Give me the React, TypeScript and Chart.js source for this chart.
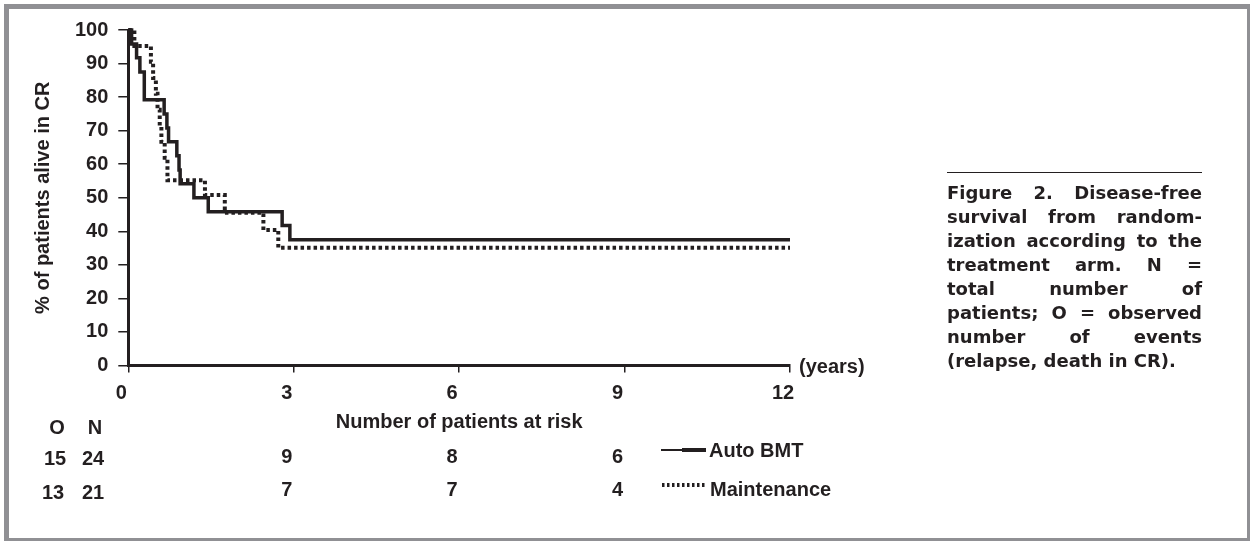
import React, { useEffect, useRef } from 'react';
import { Chart, registerables } from 'chart.js';

Chart.register(...registerables);

// ---- data ----
const autoYears = [0, 0.06, 0.15, 0.21, 0.29, 0.65, 0.70, 0.73, 0.88, 0.92, 0.94, 1.19, 1.45, 2.79, 2.93, 12.0];
const autoPct = [100, 95.8, 91.7, 87.5, 79.2, 75.0, 70.8, 66.7, 62.5, 58.3, 54.2, 50.0, 45.8, 41.7, 37.5, 37.5];

const maintYears = [0, 0.11, 0.41, 0.45, 0.50, 0.53, 0.57, 0.60, 0.66, 0.71, 1.39, 1.75, 2.45, 2.72, 12.0];
const maintPct = [100, 95.2, 90.5, 85.7, 81.0, 76.2, 71.4, 66.7, 61.9, 55.2, 50.8, 45.5, 40.4, 35.1, 35.1];

const xTickValues = [0, 3, 6, 9, 12];
const riskYears = [3, 6, 9];
const autoRisk = [9, 8, 6];
const maintRisk = [7, 7, 4];
const autoON = ['15', '24'];
const maintON = ['13', '21'];
const seriesNames = ['Auto BMT', 'Maintenance'];

const captionLines = [
  'Figure 2. Disease-free',
  'survival from random-',
  'ization according to the',
  'treatment arm. N =',
  'total number of',
  'patients; O = observed',
  'number of events',
  '(relapse, death in CR).',
];

const INK = '#231f20';
const FONT = "'Liberation Sans', Arial, Helvetica, sans-serif";

const overlayPlugin = {
  id: 'overlay',
  afterDraw(chart: any) {
    const { ctx } = chart;
    const xs = chart.scales.x;
    ctx.save();
    ctx.fillStyle = INK;
    ctx.strokeStyle = INK;
    ctx.font = `bold 20px ${FONT}`;
    ctx.textBaseline = 'middle';
    ctx.textAlign = 'left';
    ctx.fillText('(years)', xs.right + 9, xs.top + 2);

    ctx.textAlign = 'center';
    ctx.fillText('O', 57, 428);
    ctx.fillText('N', 95, 428);
    ctx.fillText(autoON[0], 55, 459);
    ctx.fillText(autoON[1], 93, 459);
    ctx.fillText(maintON[0], 53, 493);
    ctx.fillText(maintON[1], 93, 493);

    riskYears.forEach((yr, i) => {
      const px = xs.getPixelForValue(yr) - 7;
      ctx.fillText(String(autoRisk[i]), px, 457);
      ctx.fillText(String(maintRisk[i]), px, 490);
    });

    // legend samples
    ctx.lineCap = 'butt';
    ctx.lineWidth = 2;
    ctx.beginPath();
    ctx.moveTo(661, 450);
    ctx.lineTo(684, 450);
    ctx.stroke();
    ctx.lineWidth = 4;
    ctx.beginPath();
    ctx.moveTo(682, 450);
    ctx.lineTo(706, 450);
    ctx.stroke();

    ctx.lineWidth = 4;
    ctx.setLineDash([2.5, 2.5]);
    ctx.beginPath();
    ctx.moveTo(662, 485);
    ctx.lineTo(706, 485);
    ctx.stroke();
    ctx.setLineDash([]);

    ctx.textAlign = 'left';
    ctx.fillText(seriesNames[0], 709, 451);
    ctx.fillText(seriesNames[1], 710, 490);
    ctx.restore();
  },
};

export default function App() {
  const canvasRef = useRef<HTMLCanvasElement | null>(null);

  useEffect(() => {
    const canvas = canvasRef.current;
    if (!canvas) return;
    const tickFont = { family: FONT, size: 20, weight: 'bold' as const };
    const chart = new Chart(canvas, {
      type: 'line',
      data: {
        datasets: [
          {
            label: seriesNames[0],
            data: autoYears.map((t, i) => ({ x: t, y: autoPct[i] })),
            borderColor: INK,
            borderWidth: 3.5,
            stepped: 'before',
            pointRadius: 0,
            fill: false,
            clip: false as any,
          },
          {
            label: seriesNames[1],
            data: maintYears.map((t, i) => ({ x: t, y: maintPct[i] })),
            borderColor: INK,
            borderWidth: 4,
            borderDash: [3.5, 3],
            stepped: 'before',
            pointRadius: 0,
            fill: false,
            clip: false as any,
          },
        ],
      },
      options: {
        responsive: false,
        animation: false,
        events: [],
        layout: { padding: { left: 0, top: 30, right: 460, bottom: 0 } },
        plugins: { legend: { display: false }, tooltip: { enabled: false } },
        scales: {
          x: {
            type: 'linear',
            min: 0,
            max: 12,
            afterFit: (s: any) => {
              s.height = 175.5;
            },
            afterBuildTicks: (s: any) => {
              s.ticks = xTickValues.map((v) => ({ value: v }));
            },
            ticks: { labelOffset: -7, padding: 9, color: INK, font: tickFont, maxRotation: 0 },
            grid: { drawOnChartArea: false, drawTicks: true, tickLength: 7, color: INK, lineWidth: 1.5 },
            border: { display: true, color: INK, width: 3 },
            title: {
              display: true,
              text: 'Number of patients at risk',
              color: INK,
              font: tickFont,
              padding: { top: 0, bottom: 107 },
            },
          },
          y: {
            min: 0,
            max: 100,
            afterFit: (s: any) => {
              s.width = 128.3;
            },
            ticks: { stepSize: 10, padding: 10, color: INK, font: tickFont },
            grid: { drawOnChartArea: false, drawTicks: true, tickLength: 10, color: INK, lineWidth: 1.5 },
            border: { display: true, color: INK, width: 3 },
            title: {
              display: true,
              text: '% of patients alive in CR',
              color: INK,
              font: tickFont,
              padding: { top: 31, bottom: 0 },
            },
          },
        },
      } as any,
      plugins: [overlayPlugin],
    });
    return () => chart.destroy();
  }, []);

  return (
    <div
      style={{
        position: 'absolute',
        left: 0,
        top: 0,
        width: 1250,
        height: 541,
        background: '#fff',
        overflow: 'hidden',
      }}
    >
      <canvas
        ref={canvasRef}
        width={1250}
        height={541}
        style={{ position: 'absolute', left: 0, top: 0, width: 1250, height: 541 }}
      />
      <div
        style={{
          position: 'absolute',
          left: 4,
          top: 4,
          width: 1248,
          height: 539,
          boxSizing: 'border-box',
          border: '5px solid #909094',
        }}
      />
      <div
        style={{
          position: 'absolute',
          left: 947,
          top: 172,
          width: 255,
          borderTop: `1.5px solid ${INK}`,
        }}
      />
      <div
        style={{
          position: 'absolute',
          left: 947,
          top: 181,
          width: 255,
          font: "bold 18px 'DejaVu Sans', sans-serif",
          lineHeight: '24px',
          color: INK,
        }}
      >
        {captionLines.map((line, i) => {
          const last = i === captionLines.length - 1;
          return (
            <div
              key={i}
              style={{
                textAlign: last ? 'left' : 'justify',
                textAlignLast: last ? 'left' : 'justify',
              } as any}
            >
              {line}
            </div>
          );
        })}
      </div>
    </div>
  );
}
